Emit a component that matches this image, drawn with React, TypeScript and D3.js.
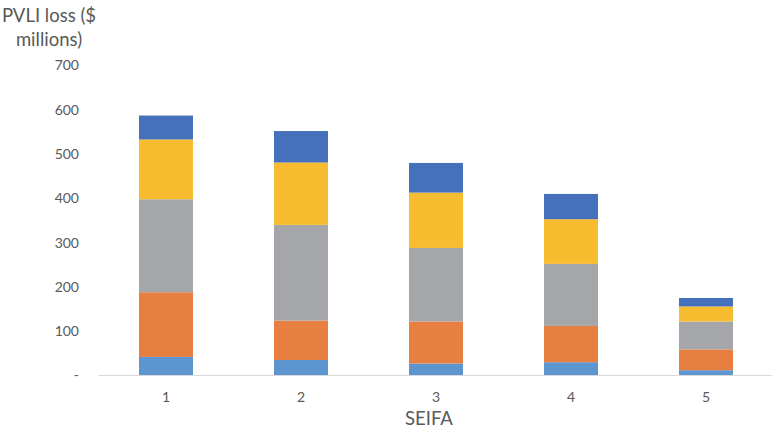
import React from 'react'
import * as d3 from 'd3'

// SEIFA quintiles and the stacked PVLI loss components ($ millions), bottom to top
const categories = ['1', '2', '3', '4', '5']
const seriesKeys = ['s1', 's2', 's3', 's4', 's5']
const s1 = [42, 35, 27, 30, 12]
const s2 = [146, 89, 95, 82, 47]
const s3 = [210, 216, 166, 140, 63]
const s4 = [135, 141, 125, 101, 34]
const s5 = [54, 71, 67, 57, 19]
const yTicks = [0, 100, 200, 300, 400, 500, 600, 700]

const colors = ['#5d95d1', '#e67f40', '#a5a6a9', '#f7bc30', '#4570bc']

const W = 772
const H = 430
const FONT = 'Lato, "Open Sans", sans-serif'

export default function App() {
  const rows = categories.map((c, i) => ({
    cat: c,
    s1: s1[i],
    s2: s2[i],
    s3: s3[i],
    s4: s4[i],
    s5: s5[i],
  }))

  const stacked = d3.stack<any>().keys(seriesKeys)(rows)

  const x = d3.scaleBand()
    .domain(categories)
    .range([98.5, 773.5])
    .paddingInner(0.6)
    .paddingOuter(0.3)

  const y = d3.scaleLinear()
    .domain([0, 700])
    .range([375.5, 65.5])

  const fmt = (v: number) => (v === 0 ? '-' : d3.format('d')(v))

  return (
    <svg
      width={W}
      height={H}
      style={{ position: 'absolute', left: 0, top: 0, background: '#fff' }}
      fontFamily={FONT}
    >
      {/* y axis title */}
      <text x={49} y={22} textAnchor="middle" fill="#595959" fontSize={18.5}>
        PVLI loss ($
      </text>
      <text x={49} y={46} textAnchor="middle" fill="#595959" fontSize={18.5}>
        millions)
      </text>

      {/* y tick labels */}
      {yTicks.map((t) => (
        <text
          key={t}
          x={79}
          y={y(t)}
          dy="0.35em"
          textAnchor="end"
          fill="#595959"
          fontSize={14}
        >
          {fmt(t)}
        </text>
      ))}

      {/* stacked bars */}
      {stacked.map((layer, li) => (
        <g key={layer.key} fill={colors[li]}>
          {layer.map((d, i) => (
            <rect
              key={i}
              x={x(categories[i])}
              y={y(d[1])}
              width={x.bandwidth()}
              height={y(d[0]) - y(d[1])}
            />
          ))}
        </g>
      ))}

      {/* baseline */}
      <line x1={98.5} x2={W} y1={y(0)} y2={y(0)} stroke="#d9d9d9" strokeWidth={1} />

      {/* category labels */}
      {categories.map((c) => (
        <text
          key={c}
          x={(x(c) as number) + x.bandwidth() / 2}
          y={402}
          textAnchor="middle"
          fill="#595959"
          fontSize={14}
        >
          {c}
        </text>
      ))}

      <text x={429} y={425} textAnchor="middle" fill="#595959" fontSize={18.5}>
        SEIFA
      </text>
    </svg>
  )
}
